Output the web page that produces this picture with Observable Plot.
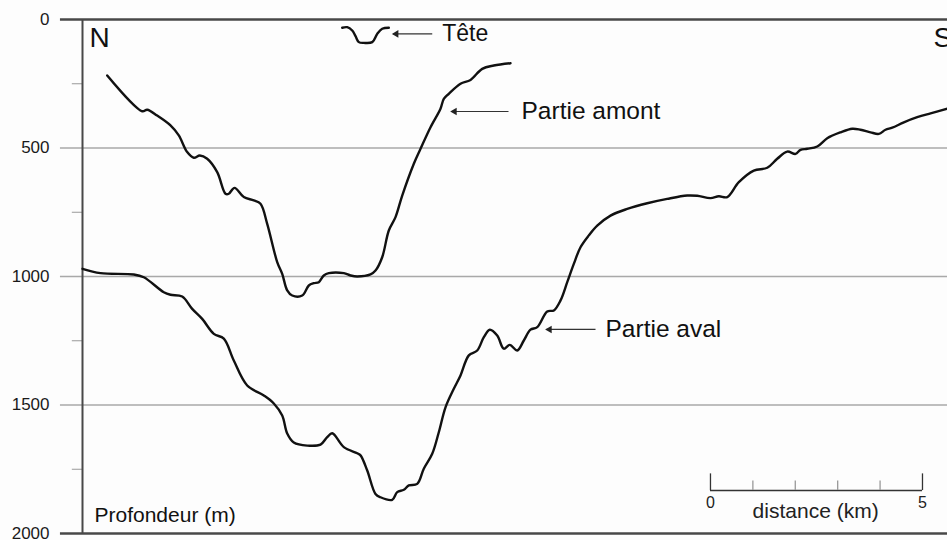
<!DOCTYPE html>
<html><head><meta charset="utf-8">
<script src="https://cdn.jsdelivr.net/npm/d3@7"></script>
<script src="https://cdn.jsdelivr.net/npm/@observablehq/plot@0.6"></script>
<style>html,body{margin:0;padding:0;background:#fdfdfd;overflow:hidden}</style>
</head><body><div id="chart"></div>
<script>
// Depth axis (m)
const depthTicks = [0, 500, 1000, 1500, 2000];
const minorTicks = [250, 750, 1250, 1750];
const gridDepths = [500, 1000, 1500];
const frameDepths = [0, 2000];

// Profiles: [distance (km), depth (m)]
const tete = [[6.125,32],[6.243,30],[6.361,43],[6.439,65],[6.517,88],[6.635,91],[6.833,88],[6.950,56],[7.068,36],[7.224,32]];

const amont = [[0.583,218],[1.408,357],[1.526,351],[1.762,374],[2.075,412],[2.271,451],[2.469,516],[2.625,538],[2.767,529],[2.941,542],[3.177,594],[3.373,678],[3.450,678],[3.585,655],[3.804,691],[4.040,704],[4.198,717],[4.356,795],[4.592,944],[4.710,990],[4.828,1054],[4.946,1074],[5.182,1074],[5.337,1035],[5.455,1026],[5.573,1022],[5.691,996],[5.809,987],[6.163,987],[6.321,996],[6.479,1000],[6.792,992],[6.910,977],[7.068,925],[7.224,821],[7.382,769],[7.540,685],[7.814,561],[7.972,503],[8.208,419],[8.443,347],[8.521,309],[8.639,289],[8.915,250],[9.151,235],[9.427,192],[9.700,179],[10.094,170]];

const aval = [[0,970],[0.425,987],[1.210,992],[1.446,1003],[1.917,1061],[2.075,1071],[2.351,1078],[2.587,1126],[2.823,1165],[3.097,1223],[3.333,1242],[3.568,1327],[3.884,1424],[4.276,1463],[4.512,1494],[4.710,1541],[4.828,1611],[4.983,1646],[5.300,1658],[5.613,1654],[5.771,1625],[5.889,1610],[6.163,1664],[6.479,1688],[6.557,1696],[6.715,1755],[6.910,1846],[7.028,1859],[7.304,1869],[7.422,1839],[7.578,1830],[7.696,1813],[7.894,1807],[8.049,1748],[8.248,1690],[8.403,1606],[8.561,1509],[8.757,1437],[8.915,1385],[9.111,1307],[9.309,1288],[9.465,1236],[9.606,1207],[9.781,1230],[9.936,1281],[10.078,1266],[10.252,1288],[10.408,1249],[10.566,1207],[10.724,1197],[10.960,1136],[11.116,1132],[11.274,1093],[11.432,1022],[11.587,951],[11.745,886],[11.941,840],[12.139,802],[12.453,763],[12.847,737],[13.318,715],[13.790,698],[14.262,685],[14.498,686],[14.811,695],[15.007,688],[15.205,691],[15.479,633],[15.833,588],[16.149,577],[16.384,542],[16.620,514],[16.816,523],[16.934,507],[17.092,503],[17.328,494],[17.564,462],[17.877,439],[18.153,425],[18.349,429],[18.585,439],[18.781,445],[18.939,429],[19.097,421],[19.370,400],[19.686,380],[20.000,365],[20.401,347]];

// Annotations
const annotations = [
  {label: "Tête", from: 8.248, to: 7.328, depth: 56, textAt: 8.483, size: 23},
  {label: "Partie amont", from: 10.047, to: 8.703, depth: 358, textAt: 10.354, size: 24.5},
  {label: "Partie aval", from: 12.099, to: 10.943, depth: 1206, textAt: 12.335, size: 24.5}
];
const compass = [{label: "N", km: 0.165, depth: 74}, {label: "S", km: 20.07, depth: 73}];
const axisTitle = [{label: "Profondeur (m)", km: 0.283, depth: 1930}];

// Scale bar (km)
const scaleStart = 14.81;
const scaleKm = [0, 1, 2, 3, 4, 5];
const scaleLabels = [0, 5];
const scaleTitle = "distance (km)";

const xMax = 20.4, xTickStart = -0.52, xMinorStart = -0.24;

const chart = Plot.plot({
  width: 947, height: 540,
  marginTop: 19, marginBottom: 7, marginLeft: 82, marginRight: 0,
  x: {domain: [0, xMax], axis: null},
  y: {domain: [0, 2000], reverse: true, axis: null},
  style: {fontFamily: "'Liberation Sans', Arial, sans-serif", background: "#fdfdfd", overflow: "visible"},
  marks: [
    Plot.ruleY(gridDepths, {x1: xTickStart, x2: xMax, stroke: "#a9a9a9", strokeWidth: 1.3}),
    Plot.ruleY(minorTicks, {x1: xMinorStart, x2: 0, stroke: "#999", strokeWidth: 1}),
    Plot.ruleY(frameDepths, {x1: xTickStart, x2: xMax, stroke: "#484848", strokeWidth: 2.5}),
    Plot.ruleX([0], {y1: 0, y2: 2000, stroke: "#484848", strokeWidth: 2}),
    Plot.text(depthTicks, {x: 0, y: d => d, text: d => String(d), textAnchor: "end", dx: -33, fontSize: 17, fill: "#1a1a1a"}),
    Plot.line(tete, {x: d => d[0], y: d => d[1], stroke: "#111", strokeWidth: 2.4, curve: "catmull-rom"}),
    Plot.line(amont, {x: d => d[0], y: d => d[1], stroke: "#111", strokeWidth: 2.4, curve: "catmull-rom"}),
    Plot.line(aval, {x: d => d[0], y: d => d[1], stroke: "#111", strokeWidth: 2.4, curve: "catmull-rom"}),
    Plot.link(annotations, {x1: "from", x2: "to", y1: "depth", y2: "depth", stroke: "#333", strokeWidth: 1.2}),
    Plot.dot(annotations, {x: "to", y: "depth", symbol: "triangle", r: 2.8, rotate: -90, fill: "#222", stroke: "none", dx: 3}),
    Plot.text(annotations, {x: "textAt", y: "depth", text: "label", textAnchor: "start", fontSize: d => d.size, fill: "#111"}),
    Plot.text(compass, {x: "km", y: "depth", text: "label", textAnchor: "start", fontSize: 28, fill: "#111"}),
    Plot.text(axisTitle, {x: "km", y: "depth", text: "label", textAnchor: "start", fontSize: 21, fill: "#111"}),
    // scale bar
    Plot.ruleY([1833], {x1: scaleStart, x2: scaleStart + 5, stroke: "#333", strokeWidth: 1.5}),
    Plot.ruleX(scaleKm, {x: d => scaleStart + d, y1: d => (d === 0 || d === 5) ? 1768 : 1796, y2: 1833, stroke: d => (d === 0 || d === 5) ? "#333" : "#999", strokeWidth: 1.3}),
    Plot.text(scaleLabels, {x: d => scaleStart + d, y: 1880, text: d => String(d), fontSize: 16, fill: "#222"}),
    Plot.text([scaleTitle], {x: scaleStart + 2.48, y: 1912, text: d => d, fontSize: 21, fill: "#222"})
  ]
});
document.getElementById("chart").appendChild(chart);
</script>
</body></html>
